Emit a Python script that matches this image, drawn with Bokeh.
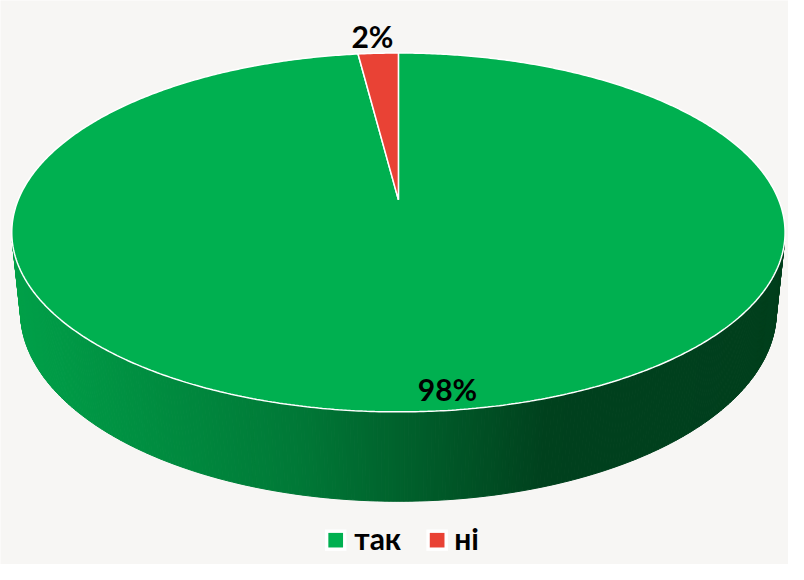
import numpy as np
from bokeh.plotting import figure
from bokeh.models import Range1d
from bokeh.core.properties import value
from bokeh.embed import file_html
from bokeh.resources import INLINE

# ---- data ----
categories = ["так", "ні"]
shares = [98, 2]
labels = ["98%", "2%"]
colors = ["#00b050", "#e94235"]

BG = "#f7f6f4"
W, H = 788, 564
p = figure(width=W, height=H, output_backend="svg", toolbar_location=None,
           x_range=Range1d(0, 804), y_range=Range1d(580, 0), min_border=0)
p.axis.visible = False
p.grid.visible = False
p.outline_line_color = None
p.background_fill_color = BG
p.border_fill_color = BG

# ---- perspective camera for a 3D pie ----
XC, YC = 406.0, 205.0
F = 1897.0
D = 4.89
SPHI = 0.46
CPHI = np.sqrt(1 - SPHI ** 2)
HGT = 0.2387


def proj(u, v, z):
    depth = D + v * CPHI - z * SPHI
    return XC + F * u / depth, YC - F * (v * SPHI + z * CPHI) / depth


def hex2rgb(h):
    h = h.lstrip("#")
    return tuple(int(h[i:i + 2], 16) for i in (0, 2, 4))


total = float(sum(shares))
bounds = []
cum = 0.0
for s in shares:
    a0 = 90.0 - 360.0 * cum / total
    cum += s
    a1 = 90.0 - 360.0 * cum / total
    bounds.append((a0, a1))


def slice_of(tdeg):
    for i, (a0, a1) in enumerate(bounds):
        t = tdeg
        while t > a0:
            t -= 360
        while t < a1:
            t += 360
        if a1 <= t <= a0:
            return i
    return 0


# ---- side wall (visible front part) ----
tmin = 180 + np.degrees(np.arcsin(1 / (D * CPHI)))
tmax = 360 - np.degrees(np.arcsin(1 / (D * CPHI)))
ts = np.radians(np.linspace(tmin, tmax, 320))
xs_side, ys_side, cs_side = [], [], []
for i in range(len(ts) - 1):
    t0, t1 = ts[i], ts[i + 1]
    xa, ya = proj(np.cos(t0), np.sin(t0), 0)
    xb, yb = proj(np.cos(t1), np.sin(t1), 0)
    xc, yc = proj(np.cos(t1), np.sin(t1), -HGT)
    xd, yd = proj(np.cos(t0), np.sin(t0), -HGT)
    xm = (xa + xb) / 2
    k = slice_of(np.degrees((t0 + t1) / 2))
    r, g, b = hex2rgb(colors[k])
    f = np.interp(xm, [15, 300, 560, 800], [0.91, 0.69, 0.37, 0.36])
    c = "#%02x%02x%02x" % (int(r * f), int(g * f), int(b * f))
    xs_side.append([xa, xb, xc, xd])
    ys_side.append([ya, yb, yc, yd])
    cs_side.append(c)
p.patches(xs_side, ys_side, fill_color=cs_side, line_color=cs_side, line_width=1.0)

# ---- top faces ----
cx, cy = proj(0, 0, 0)
for i, (a0, a1) in enumerate(bounds):
    n = max(4, int(abs(a0 - a1) * 2))
    tt = np.radians(np.linspace(a0, a1, n))
    px, py = proj(np.cos(tt), np.sin(tt), 0)
    p.patch(np.concatenate([[cx], px]), np.concatenate([[cy], py]),
            fill_color=colors[i], line_color="white", line_width=1.5)

# ---- data labels ----
p.text(x=[456, 379.5], y=[400, 37], text=labels, text_font=value("Lato"),
       text_font_style="bold", text_font_size="30px", text_color="black",
       text_align="center", text_baseline="alphabetic")

# ---- legend ----
lx = [342, 445.5]
ly = 553
p.rect(x=lx, y=[ly + 2, ly + 2], width=22, height=22, fill_color="white", line_color=None)
p.rect(x=lx, y=[ly + 2, ly + 2], width=15, height=15, fill_color=colors, line_color=None)
p.text(x=[361, 463], y=[ly, ly], text=categories, text_font=value("Lato"),
       text_font_style="bold", text_font_size="30px", text_color="black",
       text_align="left", text_baseline="middle")

open("out.html", "w").write(file_html(p, INLINE))
